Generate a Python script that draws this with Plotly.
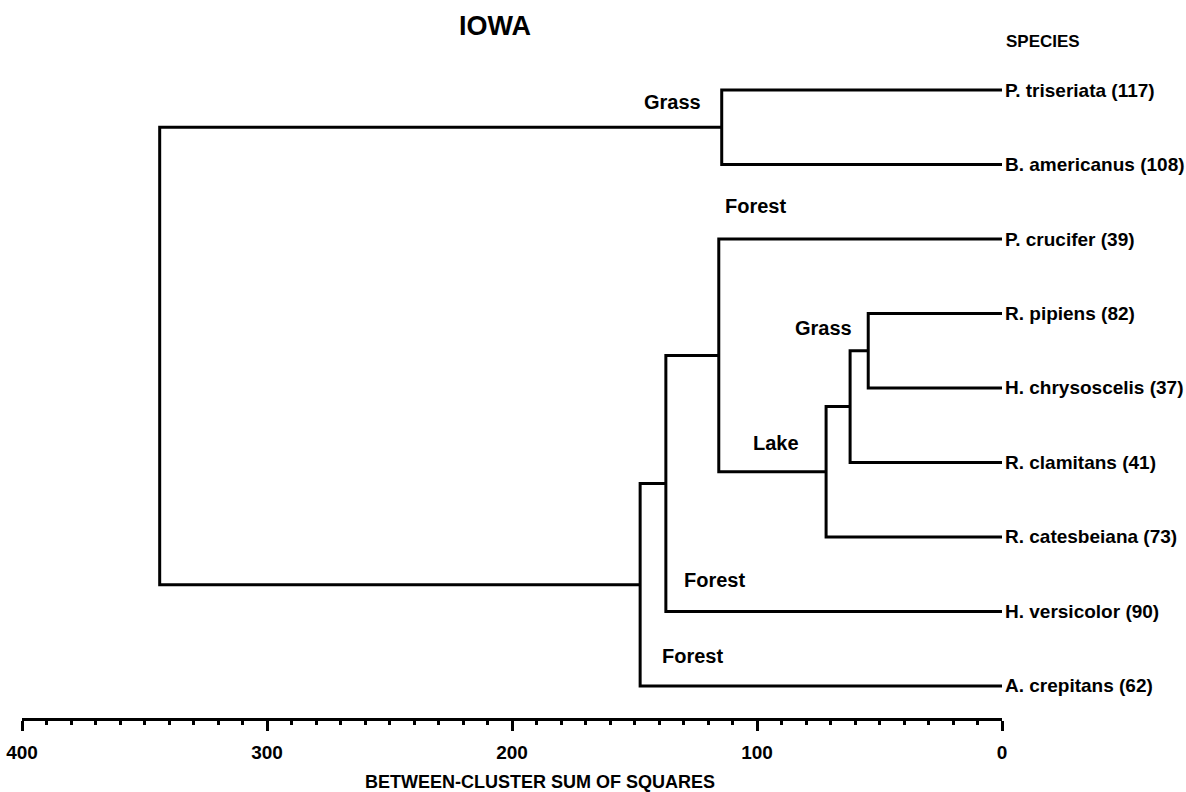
import plotly.graph_objects as go

# ---- data ----
species = ["P. triseriata", "B. americanus", "P. crucifer", "R. pipiens",
           "H. chrysoscelis", "R. clamitans", "R. catesbeiana", "H. versicolor",
           "A. crepitans"]
counts = [117, 108, 39, 82, 37, 41, 73, 90, 62]

# merges: (child_a, child_b, height); leaves are 0..8, new nodes numbered 9.. in order
merge_a = [3, 9, 10, 2, 12, 13, 0, 15]
merge_b = [4, 5, 6, 11, 7, 8, 1, 14]
merge_h = [54.6, 62.0, 71.8, 115.6, 137.2, 147.7, 114.4, 343.8]

habitat_text = ["Grass", "Forest", "Grass", "Lake", "Forest", "Forest"]
habitat_x = [134.3, 100.7, 72.9, 92.2, 117.5, 126.5]
habitat_y = [0.16, 1.56, 3.19, 4.74, 6.58, 7.60]

x_ticks = [400, 300, 200, 100, 0]

# ---- build dendrogram segments ----
n_leaves = len(species)
pos_x = {i: 0.0 for i in range(n_leaves)}
pos_y = {i: float(i) for i in range(n_leaves)}
xs, ys = [], []

node = n_leaves
for a, b, h in zip(merge_a, merge_b, merge_h):
    xs.extend([pos_x[a], h, h, pos_x[b], None])
    ys.extend([pos_y[a], pos_y[a], pos_y[b], pos_y[b], None])
    pos_x[node] = h
    pos_y[node] = (pos_y[a] + pos_y[b]) / 2
    node += 1

fig = go.Figure()
fig.add_trace(go.Scatter(x=xs, y=ys, mode="lines",
                         line=dict(color="black", width=3),
                         hoverinfo="skip", showlegend=False))

FONT = "Liberation Sans, Arial, sans-serif"

annotations = []
for i, (s, c) in enumerate(zip(species, counts)):
    annotations.append(dict(x=0, y=i, xref="x", yref="y", text=f"<b>{s} ({c})</b>",
                            showarrow=False, xanchor="left", yanchor="middle",
                            xshift=1, font=dict(family=FONT, size=19, color="black")))
for t, hx, hy in zip(habitat_text, habitat_x, habitat_y):
    annotations.append(dict(x=hx, y=hy, xref="x", yref="y", text=f"<b>{t}</b>",
                            showarrow=False, xanchor="center", yanchor="middle",
                            font=dict(family=FONT, size=20, color="black")))

W, H = 1186, 792
L, R, T, B = 22, 184, 60, 74

def px_x(p):
    return (p - L) / (W - L - R)

def px_y(p):
    return 1 - (p - T) / (H - T - B)

annotations.append(dict(x=px_x(495), y=px_y(26), xref="paper", yref="paper",
                        text="<b>IOWA</b>", showarrow=False, yanchor="middle",
                        font=dict(family=FONT, size=27, color="black")))
annotations.append(dict(x=px_x(1004), y=px_y(41), xref="paper", yref="paper",
                        text="<b>SPECIES</b>", showarrow=False, xanchor="left",
                        yanchor="middle", font=dict(family=FONT, size=17, color="black")))
annotations.append(dict(x=px_x(540), y=px_y(782), xref="paper", yref="paper",
                        text="<b>BETWEEN-CLUSTER SUM OF SQUARES</b>", showarrow=False,
                        yanchor="middle", font=dict(family=FONT, size=18, color="black")))

fig.update_layout(
    width=W, height=H,
    margin=dict(l=L, r=R, t=T, b=B, autoexpand=False),
    plot_bgcolor="white", paper_bgcolor="white",
    annotations=annotations,
    xaxis=dict(range=[400, 0], tickvals=x_ticks, ticktext=[f"<b>{v}</b>" for v in x_ticks],
               automargin=False,
               showgrid=False, zeroline=False, showline=True, linecolor="black",
               linewidth=2.5, ticks="outside", ticklen=10, tickwidth=2.5,
               tickcolor="black", ticklabelstandoff=5,
               minor=dict(dtick=10, tick0=0, ticks="outside", ticklen=4,
                          tickwidth=2.5, tickcolor="black", showgrid=False),
               tickfont=dict(family=FONT, size=19, color="black")),
    yaxis=dict(range=[8.43, -0.403], visible=False, showgrid=False, zeroline=False),
)

fig.write_html("out.html", config={"displayModeBar": False},
               post_script="document.body.style.margin='0';document.body.style.overflow='hidden';")
